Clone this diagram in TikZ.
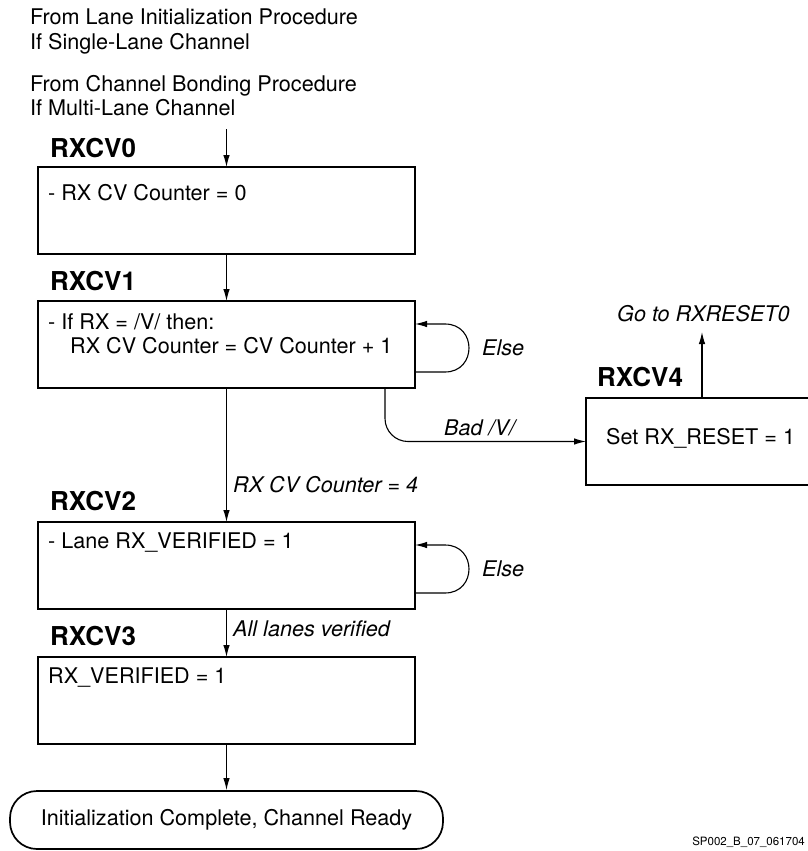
\documentclass[tikz,border=0pt]{standalone}
\usepackage{fontspec}
\setmainfont{TeX Gyre Heros}
\usetikzlibrary{arrows.meta}
\begin{document}
\begin{tikzpicture}[x=1pt,y=-1pt,
  statebox/.style={draw, line width=2.7pt, minimum width=377pt, minimum height=87pt, anchor=north west, inner sep=0pt, outer sep=0pt},
  body/.style={font=\fontsize{21.6}{26}\selectfont, inner sep=0pt, anchor=base west},
  cond/.style={font=\fontsize{21.6}{26}\selectfont\itshape, inner sep=0pt, anchor=base west},
  lbl/.style={font=\fontsize{26}{31}\selectfont\bfseries, inner sep=0pt, anchor=base west},
  arr/.style={-{Latex[length=12pt,width=6.5pt]}, line width=1.1pt},
  conn/.style={line width=1.1pt}]
\useasboundingbox (0,0) rectangle (808,851);

% top texts
\node[body] (src1) at (30,25) {From Lane Initialization Procedure};
\node[body] (src2) at (30,49) {If Single-Lane Channel};
\node[body] (src3) at (30,92) {From Channel Bonding Procedure};
\node[body] (src4) at (30,115) {If Multi-Lane Channel};
\coordinate (start) at (226.5,129);

% state boxes
\node[statebox] (b0) at (38,167) {};
\node[statebox] (b1) at (38,301) {};
\node[statebox] (b2) at (38,522) {};
\node[statebox] (b3) at (38,657) {};
\node[statebox, minimum width=226pt] (b4) at (586,398) {};

% state labels
\node[lbl] (l0) at (50,157) {RXCV0};
\node[lbl] (l1) at (50,290) {RXCV1};
\node[lbl] (l2) at (50,510) {RXCV2};
\node[lbl] (l3) at (50,645) {RXCV3};
\node[lbl] (l4) at (597,386) {RXCV4};

% box contents
\node[body] (t0) at (48,200) {- RX CV Counter = 0};
\node[body] (t1a) at (48,329) {- If RX = /V/ then:};
\node[body] (t1b) at (70,353) {RX CV Counter = CV Counter + 1};
\node[body] (t2) at (48,548) {- Lane RX\_VERIFIED = 1};
\node[body] (t3) at (48,683) {RX\_VERIFIED = 1};
\node[body] (t4) at (606,444) {Set RX\_RESET = 1};

% terminal
\node[draw, line width=1.7pt, rounded corners=27pt, minimum width=433pt, minimum height=58pt, inner sep=0pt,
  font=\fontsize{21.6}{26}\selectfont] (term) at (226.5,820) {Initialization Complete, Channel Ready};

% connectors
\draw[arr] (start) -- (b0.north);
\draw[arr] (b0.south) -- (b1.north);
\draw[arr] (b1.south) -- (b2.north);
\draw[arr] (b2.south) -- (b3.north);
\draw[arr] (b3.south) -- (term.north);

% self loops
\draw[arr] ([yshift=-71pt]b1.north east) -- ++(30,0) .. controls ++(32,0) and (477,324) .. (445,324) -- ([yshift=-23pt]b1.north east);
\draw[arr] ([yshift=-71pt]b2.north east) -- ++(30,0) .. controls ++(32,0) and (477,545) .. (445,545) -- ([yshift=-23pt]b2.north east);

% bad V
\draw[arr, rounded corners=23pt] ([xshift=-30pt]b1.south east) |- (b4.west);

% go to reset
\coordinate (gotoend) at (702,332);
\draw[arr] (b4.north west -| gotoend) -- (gotoend);

% condition labels
\node[cond] (c1) at (482,355) {Else};
\node[cond] (c2) at (482,576) {Else};
\node[cond] (c3) at (444,435) {Bad /V/};
\node[cond] (c4) at (233,492) {RX CV Counter = 4};
\node[cond] (c5) at (233,636) {All lanes verified};
\node[cond] (c6) at (617,321) {Go to RXRESET0};

\node[font=\fontsize{11.5}{13}\selectfont, inner sep=0pt, anchor=base east] (fig) at (805,845) {SP002\_B\_07\_061704};
\end{tikzpicture}
\end{document}
